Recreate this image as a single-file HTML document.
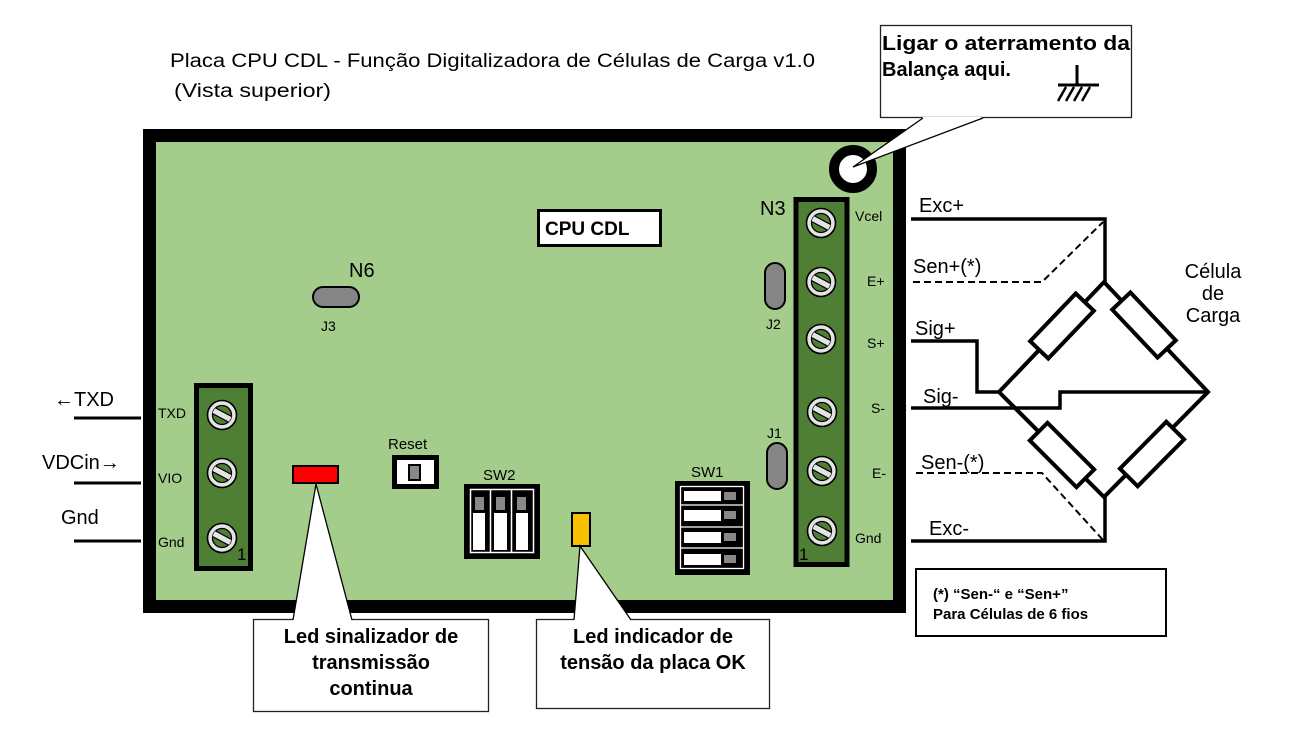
<!DOCTYPE html>
<html><head><meta charset="utf-8"><style>
html,body{margin:0;padding:0;background:#fff;}
svg{display:block;}
text{font-family:"Liberation Sans",Arial,sans-serif;}
</style></head><body>
<svg width="1310" height="730" viewBox="0 0 1310 730" xmlns="http://www.w3.org/2000/svg">
<defs>
<clipPath id="sc"><circle r="9.5"/></clipPath>
<g id="screw">
<circle r="14.5" fill="#e4e4e4" stroke="#000" stroke-width="1.6"/>
<circle r="9.5" fill="#4f7e35" stroke="#000" stroke-width="1.3"/>
<g clip-path="url(#sc)"><g transform="rotate(28)"><rect x="-13" y="-3.2" width="26" height="6.4" fill="#e4e4e4" stroke="#000" stroke-width="1.2"/></g></g>
</g>
</defs>

<!-- Title -->
<text x="170" y="67" font-size="19" textLength="645" lengthAdjust="spacingAndGlyphs">Placa CPU CDL - Função Digitalizadora de Células de Carga  v1.0</text>
<text x="174" y="97" font-size="19" textLength="157" lengthAdjust="spacingAndGlyphs">(Vista superior)</text>

<!-- Board -->
<rect x="149.5" y="135.5" width="750" height="471" fill="#a4cd8c" stroke="#000" stroke-width="13"/>

<!-- ground hole -->
<circle cx="853" cy="169" r="19" fill="#fff" stroke="#000" stroke-width="10"/>

<!-- CPU CDL label -->
<rect x="538.5" y="210.5" width="122" height="35" fill="#fff" stroke="#000" stroke-width="3"/>
<text x="545" y="235" font-size="19" font-weight="bold">CPU CDL</text>

<!-- N6 / J3 -->
<text x="349" y="277" font-size="20">N6</text>
<rect x="313" y="287" width="46" height="20" rx="10" fill="#858585" stroke="#000" stroke-width="2"/>
<text x="321" y="331" font-size="14">J3</text>

<!-- N3 block -->
<text x="760" y="215" font-size="20">N3</text>
<rect x="796" y="199.5" width="51" height="365" fill="#4f7e35" stroke="#000" stroke-width="5"/>
<use href="#screw" x="821" y="223"/>
<use href="#screw" x="821" y="282"/>
<use href="#screw" x="821" y="339"/>
<use href="#screw" x="822" y="412"/>
<use href="#screw" x="822" y="471"/>
<use href="#screw" x="822" y="531"/>
<text x="799" y="560" font-size="17">1</text>
<text x="855" y="221" font-size="14">Vcel</text>
<text x="867" y="286" font-size="14">E+</text>
<text x="867" y="348" font-size="14">S+</text>
<text x="871" y="413" font-size="14">S-</text>
<text x="872" y="478" font-size="14">E-</text>
<text x="855" y="543" font-size="14">Gnd</text>

<!-- J2, J1 -->
<rect x="765" y="263" width="20" height="46" rx="10" fill="#858585" stroke="#000" stroke-width="2"/>
<text x="766" y="329" font-size="14">J2</text>
<text x="767" y="438" font-size="14">J1</text>
<rect x="767" y="443" width="20" height="46" rx="10" fill="#858585" stroke="#000" stroke-width="2"/>

<!-- Left block -->
<rect x="196.5" y="385.5" width="54" height="183" fill="#4f7e35" stroke="#000" stroke-width="5"/>
<use href="#screw" x="222" y="415"/>
<use href="#screw" x="222" y="473"/>
<use href="#screw" x="222" y="538"/>
<text x="237" y="560" font-size="17">1</text>
<text x="158" y="418" font-size="14">TXD</text>
<text x="158" y="483" font-size="14">VIO</text>
<text x="158" y="547" font-size="14">Gnd</text>

<!-- external left wires -->
<line x1="74" y1="418" x2="141" y2="418" stroke="#000" stroke-width="3"/>
<line x1="74" y1="483" x2="141" y2="483" stroke="#000" stroke-width="3"/>
<line x1="74" y1="541" x2="141" y2="541" stroke="#000" stroke-width="3"/>
<text x="54" y="406" font-size="20">←TXD</text>
<text x="42" y="469" font-size="20">VDCin→</text>
<text x="61" y="524" font-size="20">Gnd</text>

<!-- Reset -->
<text x="388" y="449" font-size="15">Reset</text>
<rect x="394.5" y="457.5" width="42" height="29" fill="#fff" stroke="#000" stroke-width="5"/>
<rect x="409" y="465" width="11" height="15" fill="#888" stroke="#000" stroke-width="2"/>

<!-- red LED -->
<rect x="293" y="466" width="45" height="17" fill="#f00" stroke="#000" stroke-width="2"/>

<!-- SW2 -->
<text x="483" y="480" font-size="15">SW2</text>
<rect x="464" y="484" width="76" height="75" fill="#000"/>
<rect x="470.5" y="489.5" width="63" height="63" fill="none" stroke="#fff" stroke-width="1.5"/>
<line x1="490.5" y1="490" x2="490.5" y2="553" stroke="#fff" stroke-width="1.5"/>
<line x1="511.5" y1="490" x2="511.5" y2="553" stroke="#fff" stroke-width="1.5"/>
<rect x="475" y="497" width="9" height="13" fill="#888"/>
<rect x="496" y="497" width="9" height="13" fill="#888"/>
<rect x="517" y="497" width="9" height="13" fill="#888"/>
<rect x="473" y="513" width="12" height="37" fill="#fff"/>
<rect x="494" y="513" width="13" height="37" fill="#fff"/>
<rect x="516" y="513" width="12" height="37" fill="#fff"/>

<!-- yellow LED -->
<rect x="572" y="513" width="18" height="33" fill="#f9c000" stroke="#000" stroke-width="2"/>

<!-- SW1 -->
<text x="691" y="477" font-size="15">SW1</text>
<rect x="675" y="481" width="75" height="94" fill="#000"/>
<rect x="680.5" y="486.5" width="63" height="82" fill="none" stroke="#fff" stroke-width="1.3"/>
<line x1="681" y1="505" x2="743" y2="505" stroke="#fff" stroke-width="1.3"/>
<line x1="681" y1="527" x2="743" y2="527" stroke="#fff" stroke-width="1.3"/>
<line x1="681" y1="548" x2="743" y2="548" stroke="#fff" stroke-width="1.3"/>
<rect x="684" y="491" width="37" height="10" fill="#fff"/><rect x="724" y="492" width="12" height="8" fill="#888"/>
<rect x="684" y="510" width="37" height="11" fill="#fff"/><rect x="724" y="511" width="12" height="8" fill="#888"/>
<rect x="684" y="532" width="37" height="11" fill="#fff"/><rect x="724" y="533" width="12" height="8" fill="#888"/>
<rect x="684" y="554" width="37" height="11" fill="#fff"/><rect x="724" y="555" width="12" height="8" fill="#888"/>

<!-- callout: LED sinalizador -->
<rect x="253.5" y="619.5" width="235" height="92" fill="#fff" stroke="#222" stroke-width="1.3"/>
<polygon points="316,484 293,620.5 352,620.5" fill="#fff"/>
<polyline points="293,620 316,484 352,620" fill="none" stroke="#000" stroke-width="1.3"/>
<text x="371" y="643" font-size="20" font-weight="bold" text-anchor="middle">Led sinalizador de</text>
<text x="371" y="669" font-size="20" font-weight="bold" text-anchor="middle">transmissão</text>
<text x="371" y="695" font-size="20" font-weight="bold" text-anchor="middle">continua</text>

<!-- callout: LED indicador -->
<rect x="536.5" y="619.5" width="233" height="89" fill="#fff" stroke="#222" stroke-width="1.3"/>
<polygon points="580,546 574,620.5 631,620.5" fill="#fff"/>
<polyline points="574,620 580,546 631,620" fill="none" stroke="#000" stroke-width="1.3"/>
<text x="653" y="643" font-size="20" font-weight="bold" text-anchor="middle">Led indicador de</text>
<text x="653" y="669" font-size="20" font-weight="bold" text-anchor="middle">tensão da placa OK</text>

<!-- ground callout -->
<rect x="880.5" y="25.5" width="251" height="92" fill="#fff" stroke="#222" stroke-width="1.3"/>
<polygon points="853,167 923,117 983,117" fill="#fff"/>
<polyline points="923,118 853,167 983,118" fill="none" stroke="#000" stroke-width="1.3"/>
<text x="882" y="50" font-size="20" font-weight="bold" textLength="248" lengthAdjust="spacingAndGlyphs">Ligar o aterramento da</text>
<text x="882" y="76" font-size="20" font-weight="bold">Balança aqui.</text>
<line x1="1077" y1="65" x2="1077" y2="85" stroke="#000" stroke-width="3"/>
<line x1="1058" y1="85" x2="1099" y2="85" stroke="#000" stroke-width="3"/>
<g stroke="#000" stroke-width="2.5">
<line x1="1066" y1="87" x2="1058" y2="101"/>
<line x1="1074" y1="87" x2="1066" y2="101"/>
<line x1="1082" y1="87" x2="1074" y2="101"/>
<line x1="1090" y1="87" x2="1082" y2="101"/>
</g>

<!-- Right wiring -->
<g stroke="#000" stroke-width="3.5" fill="none">
<polyline points="911,219 1105,219 1105,283"/>
<polyline points="911,341 977,341 977,392 1000,392"/>
<polyline points="911,408 1060,408 1060,392 1208,392"/>
<polyline points="911,541 1105,541 1105,496"/>
</g>
<g stroke="#000" stroke-width="2" fill="none" stroke-dasharray="7,4">
<polyline points="913,282 1042,282 1103,222"/>
<polyline points="916,473 1042,473 1103,540"/>
</g>
<!-- bridge -->
<polygon points="1104,282 1208,392 1104,497 999,392" fill="none" stroke="#000" stroke-width="4" stroke-linejoin="miter"/>
<g fill="#fff" stroke="#000" stroke-width="4">
<rect x="-33" y="-12.5" width="66" height="25" transform="translate(1062,326) rotate(133.7)"/>
<rect x="-33" y="-12.5" width="66" height="25" transform="translate(1144,325) rotate(46.6)"/>
<rect x="-33" y="-12.5" width="66" height="25" transform="translate(1062,455) rotate(45)"/>
<rect x="-33" y="-12.5" width="66" height="25" transform="translate(1152,454) rotate(134.7)"/>
</g>
<text x="919" y="212" font-size="20">Exc+</text>
<text x="913" y="273" font-size="20">Sen+(*)</text>
<text x="915" y="335" font-size="20">Sig+</text>
<text x="923" y="403" font-size="20">Sig-</text>
<text x="921" y="469" font-size="20">Sen-(*)</text>
<text x="929" y="535" font-size="20">Exc-</text>
<text x="1213" y="278" font-size="20" text-anchor="middle">Célula</text>
<text x="1213" y="300" font-size="20" text-anchor="middle">de</text>
<text x="1213" y="322" font-size="20" text-anchor="middle">Carga</text>

<!-- note box -->
<rect x="916" y="569" width="250" height="67" fill="#fff" stroke="#000" stroke-width="2"/>
<text x="933" y="599" font-size="15" font-weight="bold">(*) “Sen-“ e “Sen+”</text>
<text x="933" y="619" font-size="15" font-weight="bold">Para Células de 6 fios</text>
</svg>
</body></html>
